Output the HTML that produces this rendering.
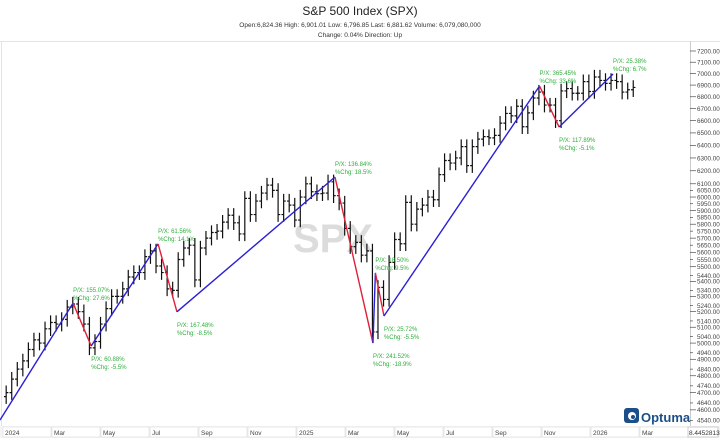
<!DOCTYPE html>
<html><head><meta charset="utf-8"><style>
body{margin:0;background:#fff;width:720px;height:438px;overflow:hidden;font-family:"Liberation Sans",sans-serif}
svg{position:absolute;left:0;top:0}
</style></head><body>
<svg id="chart" width="720" height="438" xmlns="http://www.w3.org/2000/svg">
<text x="360" y="15" text-anchor="middle" font-size="12" fill="#222">S&amp;P 500 Index (SPX)</text>
<text x="360" y="27" text-anchor="middle" font-size="6.5" fill="#333">Open:6,824.36   High: 6,901.01   Low: 6,796.85   Last: 6,881.62   Volume: 6,079,080,000</text>
<text x="360" y="37" text-anchor="middle" font-size="6.5" fill="#333">Change: 0.04%   Direction: Up</text>
<line x1="0" y1="41.5" x2="720" y2="41.5" stroke="#e4e4e4"/>
<line x1="1.5" y1="41" x2="1.5" y2="426" stroke="#e4e4e4"/>
<line x1="690.5" y1="41" x2="690.5" y2="426" stroke="#ccc"/>
<rect x="0" y="426" width="720" height="12" fill="#f4f4f4"/>
<text x="333" y="252" text-anchor="middle" font-size="40" font-weight="bold" fill="#dcdcdc">SPX</text>
<g id="yaxis"></g><g id="xaxis"></g><g id="bars"></g><g id="zig"></g><g id="ann"></g>
<g>
<rect x="624" y="408" width="15" height="15" rx="3" fill="#1b4f8a"/>
<circle cx="632" cy="416" r="4" fill="#fff"/><circle cx="633" cy="417" r="2" fill="#1b4f8a"/>
<text x="641" y="422" font-size="13" fill="#1b4f8a" font-weight="bold">Optuma</text>
</g>
<rect x="688" y="427" width="30" height="10" fill="#fff" stroke="#ccc"/>
<text x="689" y="435" font-size="6.5" fill="#333">8.4452813</text>
</svg>
<script>
const yTicks=[7200,7100,7000,6900,6800,6700,6600,6500,6400,6300,6200,6100,6050,6000,5950,5900,5850,5800,5750,5700,5650,5600,5550,5500,5440,5400,5340,5300,5240,5200,5140,5100,5040,5000,4940,4900,4840,4800,4740,4700,4640,4600,4540];
const xLabels=["2024","Mar","May","Jul","Sep","Nov","2025","Mar","May","Jul","Sep","Nov","2026","Mar"];
const xLabelMonths=[0,2,4,6,8,10,12,14,16,18,20,22,24,26];
const weeklyCloses=[4700,4780,4840,4890,4960,5020,5000,5090,5130,5120,5150,5230,5250,5200,5120,4970,5010,5120,5220,5300,5300,5350,5430,5460,5460,5570,5610,5505,5460,5350,5340,5550,5630,5650,5410,5630,5700,5740,5750,5815,5865,5810,5730,5990,5870,5970,6030,6090,6050,5870,5970,5940,5830,6000,6100,6040,6025,6030,6115,6010,5955,5770,5640,5670,5580,5610,5070,5360,5280,5530,5690,5660,5960,5800,5910,5940,6000,5980,6170,6280,6260,6300,6390,6240,6390,6450,6470,6460,6480,6580,6660,6640,6720,6550,6665,6790,6840,6730,6730,6600,6850,6870,6830,6830,6930,6845,6970,6940,6915,6940,6930,6840,6860,6880];
const zigMonths=[-0.12,2.86,3.6,6.33,7.1,13.55,15.1,15.2,15.55,21.9,22.7,24.9];
const zigValues=[4542,5256,4982,5659,5199,6152,5000,5458,5172,6892,6548,6996];
const annPX=["","P/X: 155.07%","P/X: 60.88%","P/X: 61.56%","P/X: 167.48%","P/X: 136.84%","P/X: 241.52%","P/X: 18.50%","P/X: 25.72%","P/X: 365.45%","P/X: 117.89%","P/X: 25.38%"];
const annChg=["","%Chg: 27.6%","%Chg: -5.5%","%Chg: 14.1%","%Chg: -8.5%","%Chg: 18.5%","%Chg: -18.9%","%Chg: 9.5%","%Chg: -5.5%","%Chg: 33.6%","%Chg: -5.1%","%Chg: 6.7%"];
const annAbove=[0,1,0,1,0,1,0,1,0,1,0,1];

const NS="http://www.w3.org/2000/svg";
const yOf=v=>51+801*Math.log(7200/v);
const xOf=m=>3+m*24.5;
const weekMonth=w=>0.13+w*0.2265;
function mk(tag,attrs,parent){const e=document.createElementNS(NS,tag);for(const k in attrs)e.setAttribute(k,attrs[k]);document.getElementById(parent).appendChild(e);return e;}

yTicks.forEach(v=>{const y=yOf(v);const major=v%100===0;
 const t=mk("line",{x1:690,x2:major?696:693,y1:y,y2:y,stroke:"#333","stroke-width":0.6},"yaxis");
 
 
 const l=mk("text",{x:697,y:y+2.3,"font-size":6.3,fill:"#444"},"yaxis");l.textContent=v.toFixed(2);
 
 
});
xLabels.forEach((s,i)=>{const x=xOf(xLabelMonths[i]);
 const b=mk("rect",{x:x,y:427,width:48,height:10,fill:"#fff",stroke:"#ddd","stroke-width":0.6},"xaxis");
 
 
 const l=mk("text",{x:x+2,y:435,"font-size":6.5,fill:"#444"},"xaxis");l.textContent=s;
 
 
});
weeklyCloses.forEach((c,i)=>{const o=i?weeklyCloses[i-1]:c*0.995;const hi=Math.max(o,c)*1.009,lo=Math.min(o,c)*0.991;
 const x=xOf(weekMonth(i));
 const g=mk("path",{d:`M${x},${yOf(hi)}V${yOf(lo)}M${x-2.2},${yOf(o)}H${x}M${x},${yOf(c)}H${x+2.2}`,stroke:"#111","stroke-width":1.2,fill:"none"},"bars");
 
 
});
for(let i=1;i<zigValues.length;i++){
 const up=zigValues[i]>zigValues[i-1];
 const l=mk("line",{x1:xOf(zigMonths[i-1]),y1:yOf(zigValues[i-1]),x2:xOf(zigMonths[i]),y2:yOf(zigValues[i]),stroke:up?"#2b1fd6":"#e0203a","stroke-width":1.4},"zig");
 
 
 const x=xOf(zigMonths[i]),y=yOf(zigValues[i]);
 const y0=annAbove[i]?y-11:y+15;
 const t1=mk("text",{x:x,y:y0,"font-size":6,fill:"#2fae3c"},"ann");t1.textContent=annPX[i];
 
 
 const t2=mk("text",{x:x,y:y0+8,"font-size":6,fill:"#2fae3c"},"ann");t2.textContent=annChg[i];
 
 
}
</script>
</body></html>
